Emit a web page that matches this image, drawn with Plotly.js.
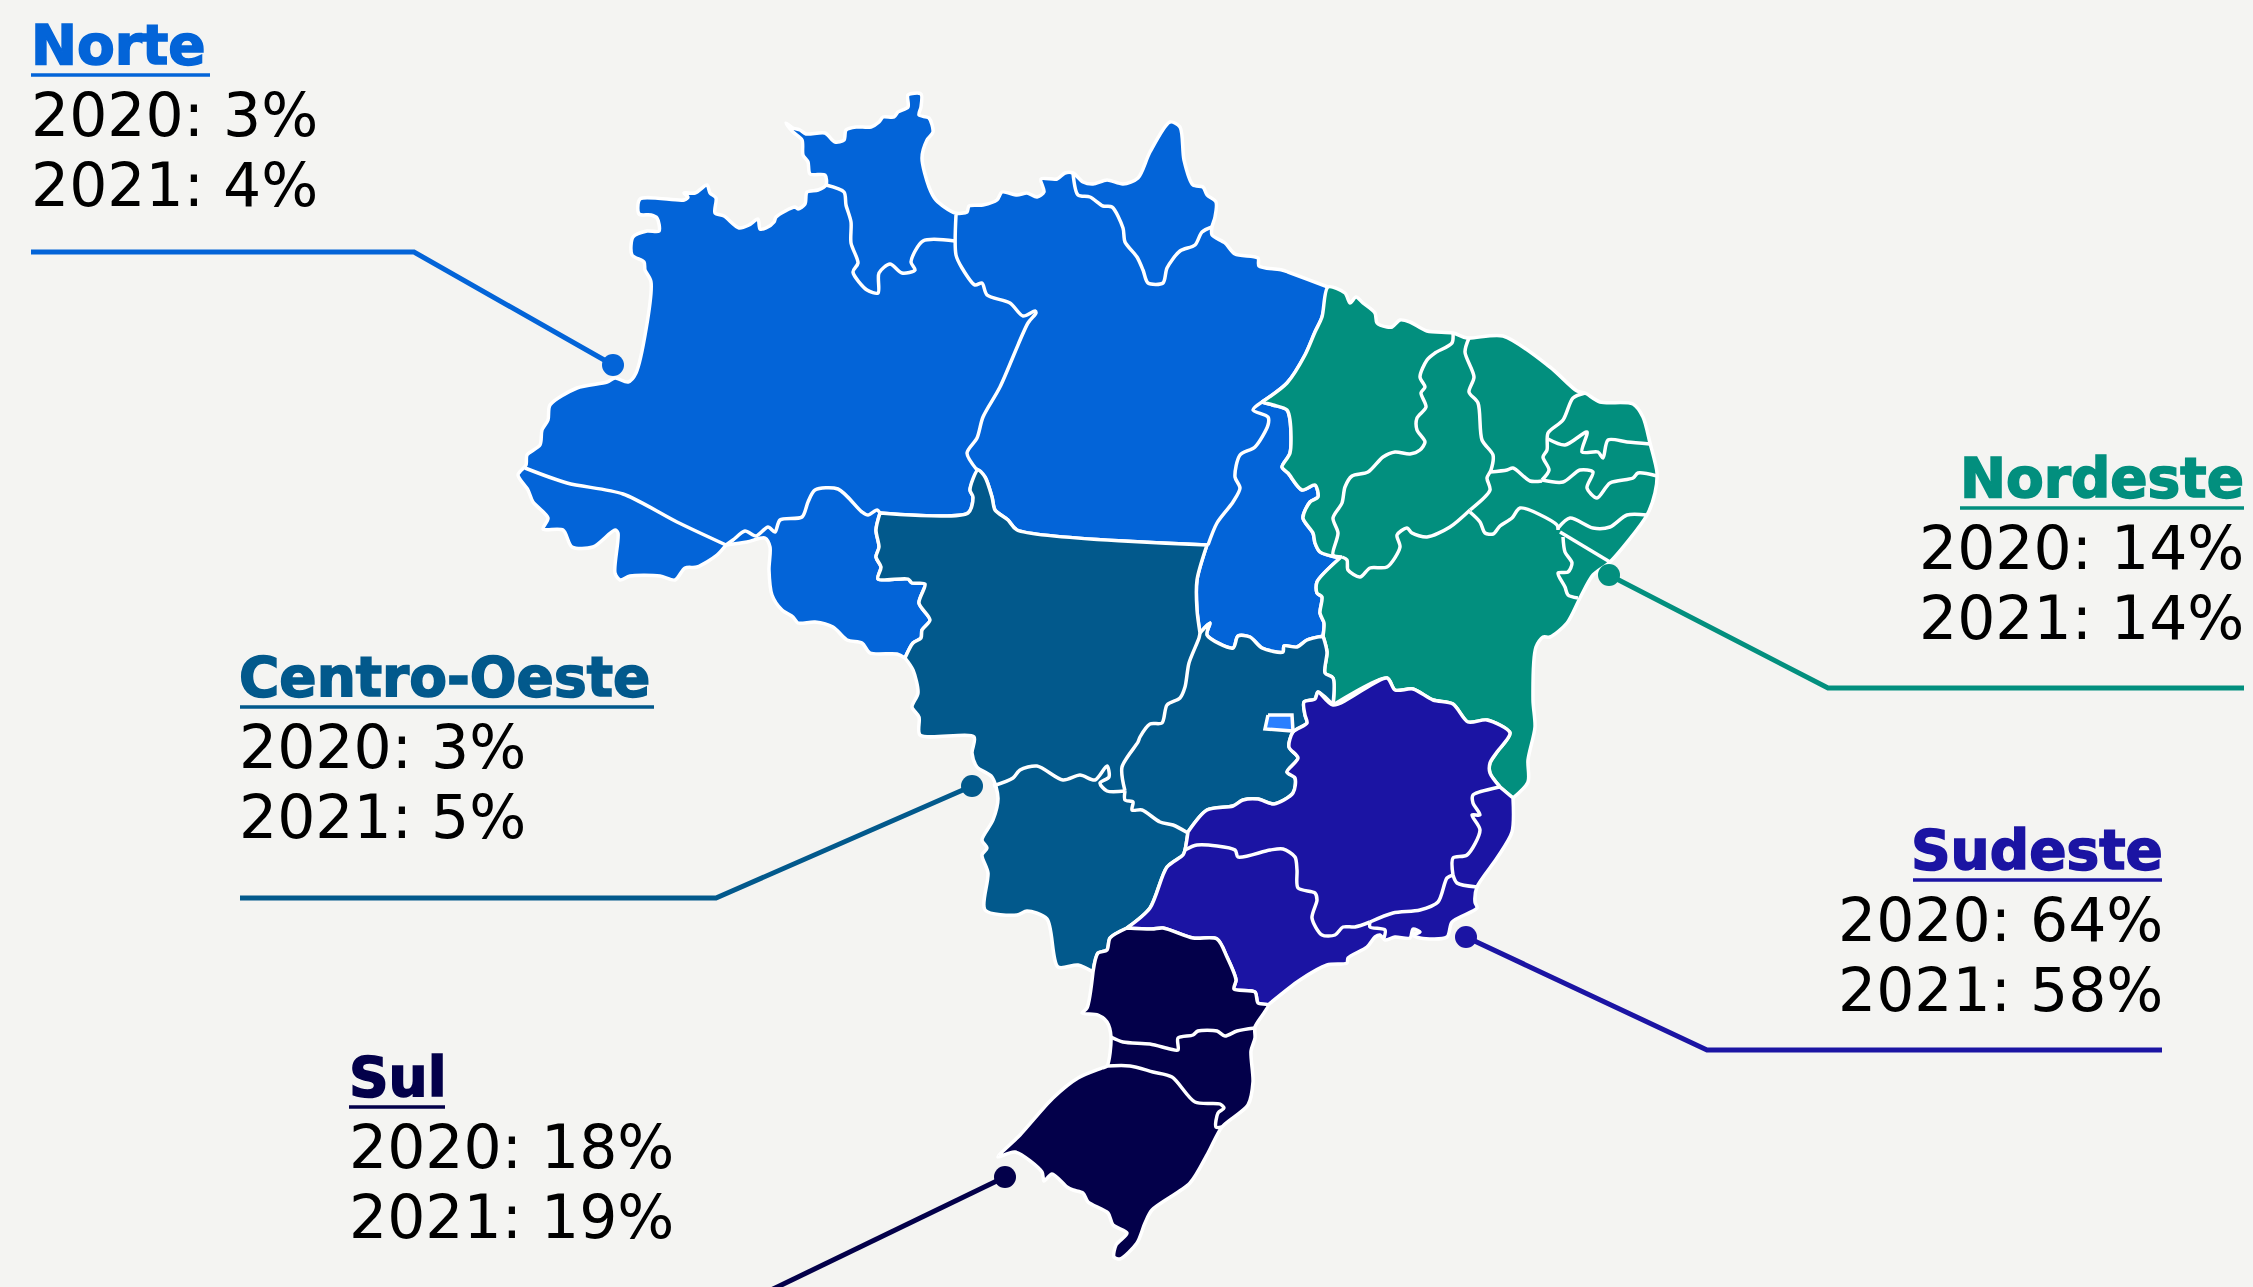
<!DOCTYPE html>
<html><head><meta charset="utf-8">
<script src="https://cdn.plot.ly/plotly-3.0.1.min.js"></script>
<style>html,body{margin:0;padding:0;background:#f4f4f2}</style></head>
<body><div id="chart" style="width:2253px;height:1287px"></div>
<script>
// ---------- values ----------
const regions = ["Norte","Nordeste","Centro-Oeste","Sudeste","Sul"];
const share2020 = [3,14,3,64,18];
const share2021 = [4,14,5,58,19];
const regionColors = ["#0364d8","#028f7e","#02598c","#1b14a3","#03004a"];
const dfColor = "#2a7fff";

// ---------- map outlines (map units) ----------
const northCoast=[[526,465],[527,455],[540,445],[542,430],[548,420],[550,405],[577,388],[607,382],[615,378],[628,382],[636,373],[651,282],[645,270],[644,262],[632,255],[633,237],[647,231],[659,231],[657,218],[651,215],[639,214],[640,199],[684,200],[688,197],[684,193],[695,193],[707,185],[710,193],[716,198],[715,213],[724,216],[739,228],[749,225],[758,219],[760,229],[766,228],[774,222],[776,217],[795,207],[798,209],[805,204],[807,192],[818,190],[826,185],[825,175],[810,174],[808,162],[803,155],[802,140],[793,132],[786,123],[793,128],[800,130],[806,134],[825,133],[835,142],[844,140],[846,130],[856,127],[871,127],[879,122],[883,117],[894,117],[898,112],[908,107],[908,95],[921,94],[921,107],[919,115],[929,118],[933,132],[927,140],[922,158],[929,187],[936,200],[955,213],[967,212],[969,206],[983,205],[997,200],[1002,192],[1017,195],[1027,193],[1037,197],[1044,192],[1041,179],[1057,179],[1065,173],[1073,173],[1083,182],[1093,184],[1107,180],[1123,184],[1138,178],[1150,152],[1170,122],[1180,127],[1184,160],[1193,185],[1203,187],[1207,195],[1216,202],[1215,217],[1212,227],[1212,235],[1225,243],[1235,254],[1258,258],[1259,266],[1282,270],[1288,272],[1328,287]];
const paMa=[[1328,287],[1322,317],[1315,332],[1305,355],[1287,383],[1262,402]];
const toMa=[[1262,402],[1273,405],[1287,410],[1290,420],[1290,453],[1282,467],[1288,473],[1302,490],[1315,485],[1318,497],[1310,502],[1303,518],[1313,533],[1315,543],[1320,552],[1340,558]];
const toBa=[[1340,558],[1317,582],[1317,593],[1322,597],[1320,613],[1324,623],[1323,636]];
const toSouth=[[1323,636],[1307,640],[1297,647],[1284,646],[1283,652],[1262,648],[1250,637],[1238,636],[1233,648],[1207,635],[1210,623],[1200,633]];
const mtTo=[[1200,633],[1197,610],[1197,580],[1207,545]];
const mtPa=[[1207,545],[1017,530],[1008,520],[995,510],[992,497],[985,477],[978,470]];
const mtAm=[[978,470],[970,490],[973,497],[968,513],[880,513]];
const roMt=[[880,513],[876,530],[879,547],[876,557],[881,567],[878,579],[908,579],[912,583],[925,584],[919,603],[930,620],[922,630],[921,638],[913,643],[905,658]];
const roSouth=[[905,658],[897,654],[870,653],[862,643],[847,640],[833,627],[815,622],[798,623],[793,617],[782,610],[772,595],[769,570],[770,547],[765,538],[747,542],[726,545]];
const acSouth=[[726,545],[717,555],[697,567],[685,568],[675,580],[660,576],[630,576],[620,580],[615,573],[618,533],[615,530],[593,547],[572,547],[563,530],[543,529],[548,518],[533,502],[528,490],[518,475],[526,465]];
const coastNE=[[1328,287],[1345,293],[1350,303],[1356,297],[1363,303],[1375,313],[1377,323],[1387,327],[1392,327],[1400,320],[1410,322],[1427,331],[1453,333],[1467,338],[1503,336],[1550,367],[1577,391],[1585,393],[1600,402],[1633,404],[1643,417],[1650,443],[1657,473],[1655,493],[1647,515],[1610,562],[1593,575],[1580,598],[1567,623],[1550,637],[1543,637],[1536,647],[1533,700],[1535,727],[1528,760],[1528,782],[1513,798]];
const baEs=[[1513,798],[1500,787]];
const baMg=[[1333,705],[1387,678],[1395,690],[1413,689],[1433,700],[1453,704],[1468,722],[1487,720],[1510,733],[1497,752],[1490,763],[1490,773],[1500,787]];
const goBa=[[1323,636],[1327,652],[1325,673],[1333,678],[1333,705]];
const goMg=[[1333,705],[1318,692],[1315,699],[1304,702],[1305,715],[1307,723],[1293,732],[1289,747],[1298,758],[1287,772],[1295,778],[1293,793],[1274,804],[1258,799],[1243,800],[1233,806],[1207,810],[1188,832]];
const msSp=[[1188,832],[1185,850],[1183,855],[1167,867],[1150,908],[1127,928]];
const msPr=[[1127,928],[1110,938],[1107,950],[1098,953],[1093,972]];
const msOuter=[[905,658],[913,670],[918,693],[912,707],[919,717],[920,735],[974,737],[972,753],[977,767],[992,777],[998,798],[993,820],[982,840],[987,848],[982,855],[988,873],[985,910],[1017,915],[1027,911],[1047,919],[1058,967],[1078,965],[1093,972]];
const coastSE=[[1513,798],[1512,832],[1497,858],[1477,887],[1475,902],[1477,908],[1452,922],[1447,937],[1420,938],[1413,935],[1420,932],[1413,929],[1410,938],[1395,937],[1385,940],[1380,935],[1375,937],[1367,947],[1348,958],[1347,963],[1327,965],[1300,980],[1268,1005]];
const prSp=[[1127,928],[1152,929],[1163,928],[1193,938],[1217,939],[1227,957],[1236,980],[1234,989],[1255,992],[1258,1003],[1268,1005]];
const sulOuter=[[1268,1005],[1255,1027],[1255,1038],[1251,1051],[1253,1082],[1248,1105],[1222,1127],[1208,1153],[1190,1183],[1152,1210],[1145,1223],[1137,1243],[1120,1259],[1114,1257],[1116,1245],[1127,1233],[1113,1225],[1108,1213],[1088,1202],[1083,1193],[1073,1190],[1067,1187],[1052,1174],[1044,1181],[1042,1172],[1015,1152],[998,1157],[1020,1135],[1053,1098],[1078,1078],[1102,1068],[1107,1066],[1111,1037],[1107,1022],[1098,1015],[1082,1013],[1087,1008],[1093,972]];
const dfOutline=[[1268,715],[1292,715],[1293,731],[1265,729]];

// state borders inside the regions
const stateBorders=[
 [[525,468],[567,483],[623,494],[677,522],[726,545]],
 [[726,545],[733,540],[745,531],[756,536],[768,527],[775,532],[780,520],[802,517],[808,502],[815,490],[838,489],[862,512],[868,515],[877,510],[880,513]],
 [[977,470],[967,453],[977,438],[983,417],[1000,387],[1028,323],[1036,313],[1035,311],[1023,316],[1010,303],[987,295],[982,283],[975,285],[962,268],[956,255],[956,215]],
 [[826,185],[844,192],[846,205],[851,222],[851,243],[858,263],[853,272],[867,290],[878,293],[879,273],[890,264],[902,273],[915,270],[911,262],[923,241],[955,241]],
 [[1073,173],[1078,195],[1090,197],[1103,206],[1112,207],[1123,228],[1125,242],[1137,257],[1143,270],[1148,283],[1163,283],[1167,268],[1180,251],[1195,245],[1202,232],[1212,227]],
 [[1262,402],[1253,410],[1268,417],[1268,425],[1255,447],[1240,455],[1235,477],[1240,488],[1233,502],[1217,523],[1208,545]],
 [[1453,333],[1452,343],[1435,353],[1427,360],[1420,377],[1425,387],[1421,393],[1426,407],[1417,418],[1417,430],[1425,442],[1420,450],[1410,454],[1395,452],[1383,457],[1368,472],[1352,476],[1345,487],[1342,503],[1333,518],[1338,533],[1333,555],[1342,557]],
 [[1469,338],[1465,352],[1474,377],[1469,392],[1478,403],[1482,440],[1493,455],[1491,470],[1487,478],[1490,490],[1470,510]],
 [[1342,557],[1347,560],[1348,570],[1360,577],[1370,568],[1387,567],[1400,547],[1397,535],[1407,528],[1412,533],[1427,537],[1450,527],[1470,510]],
 [[1490,472],[1507,470],[1513,468],[1530,481],[1542,481]],
 [[1585,393],[1573,398],[1563,420],[1548,433],[1547,450],[1543,457],[1549,470],[1542,480]],
 [[1542,480],[1563,482],[1580,470],[1593,472],[1587,488],[1597,498],[1610,483],[1633,478],[1638,473],[1657,476]],
 [[1548,439],[1565,445],[1587,432],[1582,452],[1598,452],[1603,458],[1608,440],[1627,442],[1650,444]],
 [[1470,512],[1480,522],[1485,533],[1493,534],[1500,526],[1512,518],[1520,508],[1557,525],[1558,530]],
 [[1558,528],[1570,518],[1593,528],[1610,527],[1627,515],[1647,515]],
 [[1560,532],[1610,562]],
 [[1563,537],[1565,552],[1572,563],[1568,572],[1558,573],[1565,587],[1568,595],[1578,598]],
 [[1500,787],[1495,788],[1473,795],[1473,803],[1480,815],[1472,815],[1480,830],[1467,855],[1453,858],[1453,875]],
 [[1453,875],[1457,883],[1477,887]],
 [[1453,875],[1447,878],[1438,902],[1420,910],[1393,913],[1370,922]],
 [[1370,922],[1370,927],[1385,930],[1384,938]],
 [[1185,850],[1197,845],[1235,850],[1238,857],[1270,850],[1283,849],[1295,857],[1297,870],[1298,888],[1315,893],[1317,900],[1312,918],[1322,935],[1335,935],[1343,927],[1355,927],[1370,922]],
 [[1111,1037],[1123,1042],[1150,1044],[1170,1049],[1178,1050],[1178,1038],[1193,1035],[1198,1031],[1217,1031],[1225,1036],[1237,1031],[1255,1028]],
 [[1107,1066],[1130,1066],[1153,1072],[1172,1077],[1195,1102],[1220,1104],[1224,1108],[1218,1113],[1216,1127],[1222,1127]],
 [[993,786],[1013,778],[1020,770],[1037,766],[1063,780],[1080,775],[1095,780],[1107,766],[1109,777],[1100,783],[1107,791],[1125,791]],
 [[1125,791],[1125,800],[1133,802],[1132,810],[1142,810],[1160,822],[1173,825],[1188,833]],
 [[1125,791],[1122,767],[1138,742],[1140,737],[1150,724],[1162,723],[1167,705],[1180,698],[1185,687],[1189,663],[1199,638],[1200,633]]
];

// call-outs: point on the map, elbow, end of rule (map units)
const dotPoints=[[613,365],[1609,575],[972,786],[1466,937],[1005,1177]];
const elbows=[[414,252],[1828,688],[716,898],[1707,1050],[776,1287]];
const ruleEnds=[[31,252],[2244,688],[240,898],[2162,1050],[740,1305]];
const labelX=[30,2245,238,2164,348];
const labelAnchor=["left","right","left","right","left"];
const titleBase=[66,499,698,871,1098];
const underlineSpan=[[31,210],[1960,2244],[240,654],[1913,2162],[349,445]];

// ---------- helpers ----------
const rev=a=>a.slice().reverse();
const shapes={
 "Norte":[northCoast,paMa,toMa,toBa,toSouth,mtTo,mtPa,mtAm,roMt,roSouth,acSouth],
 "Nordeste":[coastNE,baEs,rev(baMg),rev(goBa),rev(toBa),rev(toMa),rev(paMa)],
 "Centro-Oeste":[rev(mtPa),rev(mtTo),rev(toSouth),goBa,goMg,msSp,msPr,rev(msOuter),rev(roMt),rev(mtAm)],
 "Sudeste":[baMg,rev(baEs),coastSE,rev(prSp),rev(msSp),rev(goMg)],
 "Sul":[sulOuter,rev(msPr),prSp]
};
const traces=[];
regions.forEach((r,i)=>{
  const pts=[].concat(...shapes[r]);
  traces.push({type:"scatter",mode:"lines",name:r,x:pts.map(p=>p[0]),y:pts.map(p=>p[1]),
    fill:"toself",fillcolor:regionColors[i],
    line:{color:"#ffffff",width:3.5,shape:"spline",smoothing:0.8},hoverinfo:"name"});
});
stateBorders.forEach(b=>traces.push({type:"scatter",mode:"lines",x:b.map(p=>p[0]),y:b.map(p=>p[1]),
    line:{color:"#ffffff",width:3.5,shape:"spline",smoothing:0.8},hoverinfo:"skip"}));
traces.push({type:"scatter",mode:"lines",name:"Distrito Federal",x:dfOutline.concat([dfOutline[0]]).map(p=>p[0]),y:dfOutline.concat([dfOutline[0]]).map(p=>p[1]),
    fill:"toself",fillcolor:dfColor,line:{color:"#ffffff",width:3.5},hoverinfo:"name"});

const annotations=[];
regions.forEach((r,i)=>{
  const pts=[dotPoints[i],elbows[i],ruleEnds[i]];
  traces.push({type:"scatter",mode:"lines",x:pts.map(p=>p[0]),y:pts.map(p=>p[1]),
    line:{color:regionColors[i],width:5},hoverinfo:"skip"});
  traces.push({type:"scatter",mode:"markers",x:[dotPoints[i][0]],y:[dotPoints[i][1]],
    marker:{color:regionColors[i],size:22},hoverinfo:"skip"});
  traces.push({type:"scatter",mode:"lines",x:underlineSpan[i],y:[titleBase[i]+9,titleBase[i]+9],
    line:{color:regionColors[i],width:3.5},hoverinfo:"skip"});
  const font={family:"'DejaVu Sans'",size:60,color:"#000000"};
  const base={xref:"x",yref:"y",x:labelX[i],xanchor:labelAnchor[i],yanchor:"middle",showarrow:false,borderpad:0};
  annotations.push({...base,y:titleBase[i]-21,text:"<b>"+r+"</b>",font:{...font,size:55,color:regionColors[i]}});
  annotations.push({...base,y:titleBase[i]+71-22,text:"2020: "+share2020[i]+"%",font});
  annotations.push({...base,y:titleBase[i]+141-22,text:"2021: "+share2021[i]+"%",font});
});

Plotly.newPlot("chart",traces,{
  width:2253,height:1287,autosize:false,showlegend:false,
  margin:{l:0,r:0,t:0,b:0},paper_bgcolor:"#f4f4f2",plot_bgcolor:"#f4f4f2",
  xaxis:{range:[0,2253],visible:false,fixedrange:true},
  yaxis:{range:[1287,0],visible:false,fixedrange:true},
  annotations
},{displayModeBar:false}).then(()=>{
  // the reference's headings are a heavier weight than the installed bold
  document.querySelectorAll(".annotation-text").forEach(t=>{
    if(t.textContent.indexOf(":")<0){ t.style.stroke=t.style.fill; t.style.strokeWidth="1.6px"; }
  });
});
</script></body></html>
